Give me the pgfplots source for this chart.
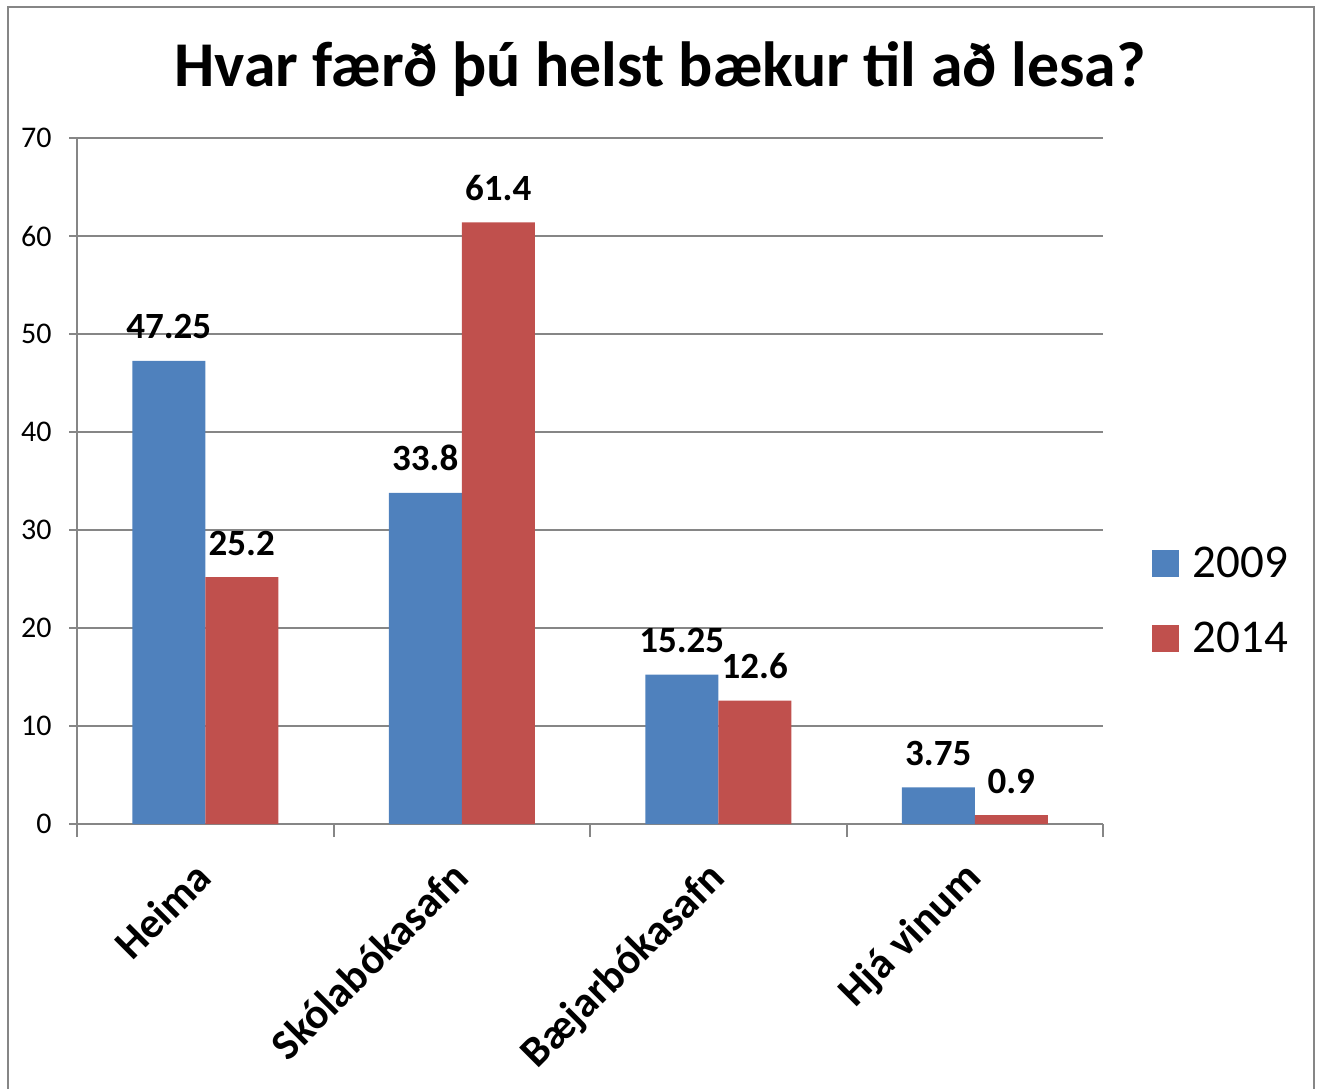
\documentclass[border=0pt]{standalone}
\usepackage{pgfplots}
\pgfplotsset{compat=1.18}
\usepackage{fontspec}
\setmainfont{Carlito}
\definecolor{cb}{HTML}{4F81BD}
\definecolor{cr}{HTML}{C0504D}
\definecolor{ax}{RGB}{134,134,134}
\begin{document}
\begin{tikzpicture}
\useasboundingbox (0,0) rectangle (661pt,544pt);
\draw[ax, line width=1pt] (4pt,-10pt) -- (4pt,540.5pt) -- (657pt,540.5pt) -- (657pt,-10pt);
\node[font=\fontsize{31.9}{38}\selectfont\bfseries, anchor=base, inner sep=0pt] at (330pt,500.5pt) {Hvar færð þú helst bækur til að lesa?};
\begin{axis}[at={(38.5pt,132pt)}, anchor=south west, scale only axis,
  width=513pt, height=343pt,
  ybar=0pt, bar width=36.5pt,
  xmin=-0.5, xmax=3.5, ymin=0, ymax=70,
  ytick={0,10,...,70},
  xtick={0,1,2,3},
  xticklabels={Heima,Skólabókasafn,Bæjarbókasafn,Hjá vinum},
  minor xtick={-0.5,0.5,1.5,2.5,3.5},
  major x tick style={draw=none},
  minor x tick style={ax, line width=1pt},
  y tick style={ax, line width=1pt},
  tick align=outside,
  major tick length=4pt,
  minor tick length=6.5pt,
  axis x line*=bottom, axis y line*=left,
  axis line style={ax, line width=1pt, -},
  ymajorgrids, grid style={ax, line width=1pt},
  /pgf/number format/assume math mode=true,
  yticklabel style={font=\fontsize{15}{18}\selectfont, anchor=east, inner sep=0pt, xshift=-8.5pt},
  xticklabel style={yshift=-24pt, xshift=4.5pt, font=\fontsize{21.5}{26}\selectfont\bfseries, rotate=45, anchor=base east, inner sep=0pt},
  point meta=explicit symbolic,
  nodes near coords,
  nodes near coords style={font=\fontsize{18.5}{22}\selectfont\bfseries, anchor=base, inner sep=0pt, yshift=11pt, text=black},
  legend style={draw=none, fill=none, at={(1.047,0.325)}, anchor=west,
    font=\fontsize{23.5}{28}\selectfont, row sep=16.5pt, inner sep=0pt},
  legend cell align=left,
  legend image code/.code={\fill[#1] (0pt,-6.75pt) rectangle (13.5pt,6.75pt); \path (18.5pt,0pt);},
]
\addplot[fill=cb, draw=none] coordinates {(0,47.25) [47.25] (1,33.8) [33.8] (2,15.25) [15.25] (3,3.75) [3.75]};
\addplot[fill=cr, draw=none] coordinates {(0,25.2) [25.2] (1,61.4) [61.4] (2,12.6) [12.6] (3,0.9) [0.9]};
\legend{2009,2014}
\end{axis}
\end{tikzpicture}
\end{document}
